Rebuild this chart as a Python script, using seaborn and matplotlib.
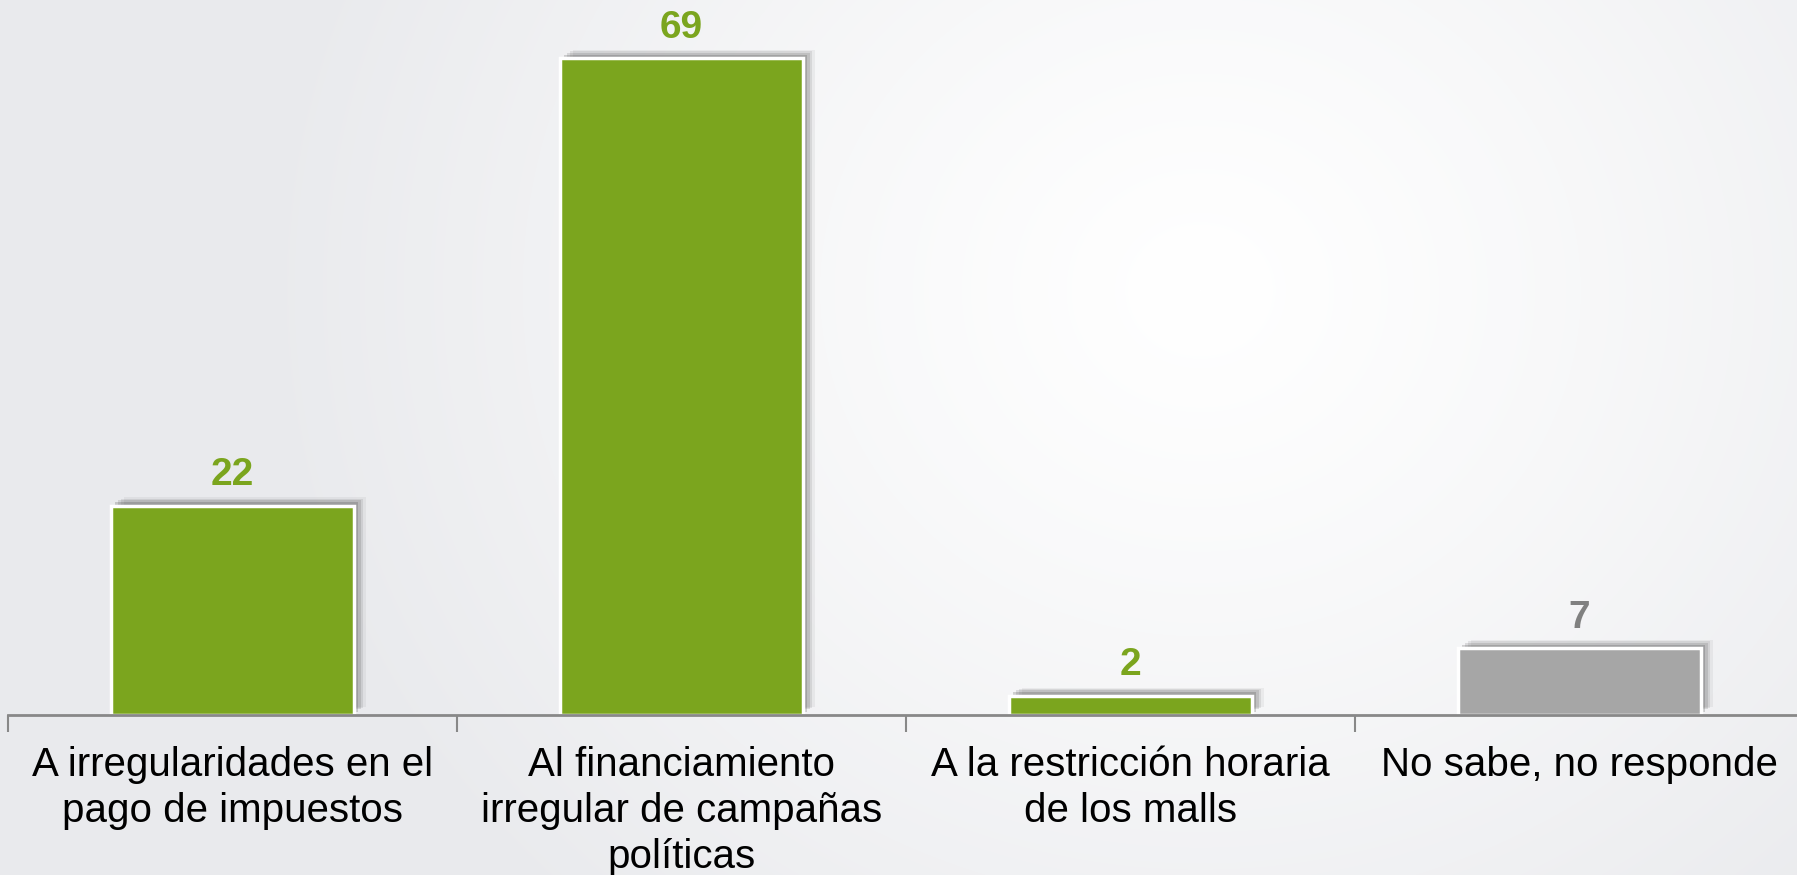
import numpy as np
import pandas as pd
import matplotlib.pyplot as plt
import matplotlib.patheffects as pe
import seaborn as sns

# Data
categories = ["A irregularidades en el\npago de impuestos",
              "Al financiamiento\nirregular de campañas\npolíticas",
              "A la restricción horaria\nde los malls",
              "No sabe, no responde"]
values = [22, 69, 2, 7]
bar_colors = ["#7ba51e", "#7ba51e", "#7ba51e", "#a6a6a6"]
label_colors = ["#7ba51e", "#7ba51e", "#7ba51e", "#808080"]

df = pd.DataFrame({"cat": categories, "val": values})

sns.set_style("white")
plt.rcParams['font.family'] = ['Liberation Sans', 'DejaVu Sans']

W, H = 1797, 875
fig = plt.figure(figsize=(W / 100, H / 100), dpi=100)

# Background radial gradient
bg = fig.add_axes([0, 0, 1, 1])
yy, xx = np.mgrid[0:H, 0:W]
r = np.sqrt((xx - 1200) ** 2 + ((yy - 290) * 1.1) ** 2)
t = np.clip(r / 950, 0, 1) ** 1.2
edge = np.array([233, 234, 237]) / 255
img = (1 - t[..., None]) * np.array([1, 1, 1]) + t[..., None] * edge
bg.imshow(img, aspect='auto', extent=[0, 1, 0, 1], origin='upper')
bg.axis('off')

# Bar chart
ax = fig.add_axes([8 / W, (H - 715) / H, (W - 8) / W, 715 / H])
ax.patch.set_alpha(0)
sns.barplot(data=df, x="cat", y="val", hue="cat", palette=bar_colors,
            legend=False, width=0.54, ax=ax, saturation=1,
            edgecolor="white", linewidth=2.5)

# soft shadow, up and to the right
shadow = [pe.SimplePatchShadow(offset=(ox, oy), alpha=a, shadow_rgbFace="#333333")
          for ox, oy, a in [(9, 6, 0.06), (7, 5, 0.1), (5, 4, 0.14), (3, 2.5, 0.2)]]
for p in ax.patches:
    p.set_path_effects(shadow + [pe.Normal()])

for container, c in zip(ax.containers, label_colors):
    ax.bar_label(container, padding=9, fontsize=28, fontweight='bold', color=c)

ax.set_xlim(-0.5, -0.5 + (W - 8) / 449)
ax.set_ylim(0, 715 / 9.52)
ax.set_xticks(np.arange(len(categories)) - 0.5, minor=True)
ax.tick_params(axis='x', which='minor', length=12, width=1.5, color="#888888", direction='out', bottom=True)
ax.tick_params(axis='x', which='major', length=0, pad=22, labelsize=29, labelcolor='black')
for lbl in ax.get_xticklabels():
    lbl.set_linespacing(1.27)
ax.set_yticks([])
ax.set_xlabel("")
ax.set_ylabel("")
for s in ["top", "right", "left"]:
    ax.spines[s].set_visible(False)
ax.spines["bottom"].set_color("#888888")
ax.spines["bottom"].set_linewidth(2)
ax.spines["bottom"].set_zorder(5)

fig.savefig("out.png", dpi=100)
